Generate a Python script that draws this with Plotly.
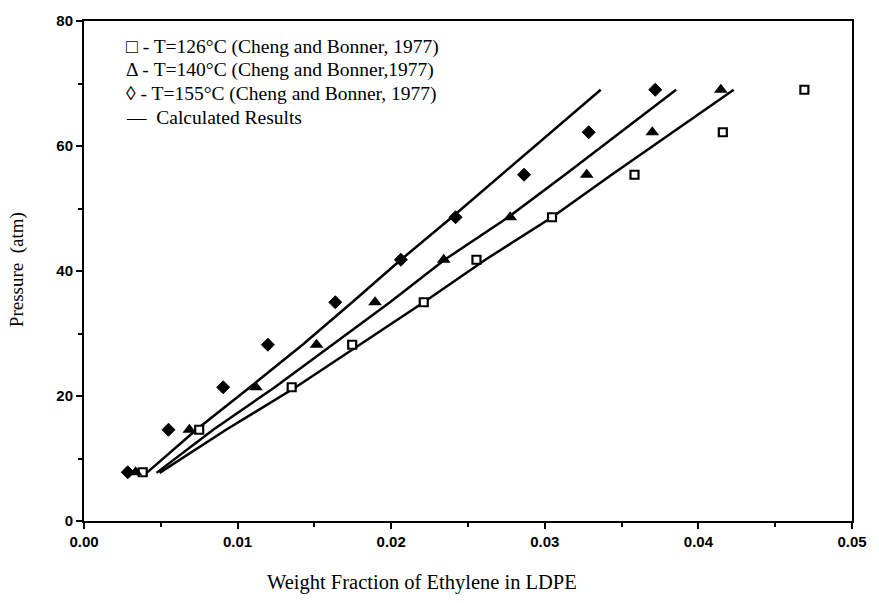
import plotly.graph_objects as go

# Pressure levels (atm)
pressure = [7.8, 14.6, 21.4, 28.2, 35.0, 41.8, 48.6, 55.4, 62.2, 69.0]

# Experimental data (Cheng and Bonner, 1977): weight fraction of ethylene
x_126 = [0.00382, 0.0075, 0.01352, 0.01746, 0.02212, 0.02555, 0.03047, 0.03584, 0.04159, 0.0469]
x_140 = [0.00336, 0.00686, 0.01119, 0.01514, 0.01895, 0.02342, 0.02775, 0.03273, 0.0370, 0.04146]
x_155 = [0.00285, 0.0055, 0.00906, 0.01197, 0.01636, 0.02063, 0.02419, 0.02865, 0.03286, 0.03719]

# Calculated results
calc_p = [7.7, 14.6, 21.4, 28.2, 35.0, 41.8, 48.6, 55.4, 62.2, 69.0]
calc_126 = [0.00492, 0.00925, 0.01378, 0.01792, 0.02212, 0.02613, 0.03047, 0.03435, 0.03829, 0.0423]
calc_140 = [0.00472, 0.00841, 0.01242, 0.01617, 0.01992, 0.02348, 0.02762, 0.03131, 0.03493, 0.03855]
calc_155 = [0.00408, 0.00731, 0.0108, 0.01423, 0.01746, 0.02063, 0.02395, 0.02717, 0.03040, 0.03364]

legend_lines = [
    "\u25a1 - T=126\u00b0C (Cheng and Bonner, 1977)",
    "\u0394 - T=140\u00b0C (Cheng and Bonner,1977)",
    "\u25ca - T=155\u00b0C (Cheng and Bonner, 1977)",
    "\u2014  Calculated Results",
]

fig = go.Figure()
line_style = dict(color="black", width=2.5)
for cx in (calc_126, calc_140, calc_155):
    fig.add_trace(go.Scatter(x=cx, y=calc_p, mode="lines", line=line_style,
                             showlegend=False, hoverinfo="skip"))

fig.add_trace(go.Scatter(x=x_126, y=pressure, mode="markers", showlegend=False,
                         marker=dict(symbol="square", size=8, color="white",
                                     line=dict(color="black", width=2.2))))
fig.add_trace(go.Scatter(x=x_140, y=pressure, mode="markers", showlegend=False,
                         marker=dict(symbol="triangle-up", size=12, color="black",
                                     line=dict(width=0))))
fig.add_trace(go.Scatter(x=x_155, y=pressure, mode="markers", showlegend=False,
                         marker=dict(symbol="diamond", size=10, color="black",
                                     line=dict(color="black", width=1))))

serif = "Liberation Serif"
for i, t in enumerate(legend_lines):
    fig.add_annotation(x=0.00262, y=75.9 - i * 3.79, xref="x", yref="y", text=t,
                       showarrow=False, xanchor="left", yanchor="middle",
                       font=dict(family=serif, size=19.5, color="black"))

fig.add_annotation(x=0.4407, y=-0.122, xref="paper", yref="paper",
                   text="Weight Fraction of Ethylene in LDPE", showarrow=False,
                   xanchor="center", yanchor="middle",
                   font=dict(family=serif, size=20.5, color="black"))
fig.add_annotation(x=-0.087, y=0.502, xref="paper", yref="paper",
                   text="Pressure  (atm)", showarrow=False, textangle=-90,
                   xanchor="center", yanchor="middle",
                   font=dict(family=serif, size=19, color="black"))

tickfont = dict(family="Liberation Sans", size=15, color="black", weight="bold")
fig.update_xaxes(range=[0, 0.05], tickvals=[0, 0.01, 0.02, 0.03, 0.04, 0.05],
                 ticktext=["0.00", "0.01", "0.02", "0.03", "0.04", "0.05"],
                 showgrid=False, zeroline=False, showline=True, linecolor="black",
                 linewidth=2, mirror=True, ticks="outside", ticklen=6, tickwidth=2,
                 tickcolor="black", tickfont=tickfont,
                 minor=dict(ticks="outside", ticklen=4, tickwidth=1.5, dtick=0.005,
                            tickcolor="black", showgrid=False))
fig.update_yaxes(range=[0, 80], tickvals=[0, 20, 40, 60, 80],
                 showgrid=False, zeroline=False, showline=True, linecolor="black",
                 linewidth=2, mirror=True, ticks="outside", ticklen=6, tickwidth=2,
                 tickcolor="black", tickfont=tickfont,
                 minor=dict(ticks="outside", ticklen=4, tickwidth=1.5, dtick=10,
                            tickcolor="black", showgrid=False))

fig.update_layout(width=879, height=603, plot_bgcolor="white", paper_bgcolor="white",
                  margin=dict(l=84, r=22, t=14, b=82), showlegend=False)

fig.write_html("out.html")
